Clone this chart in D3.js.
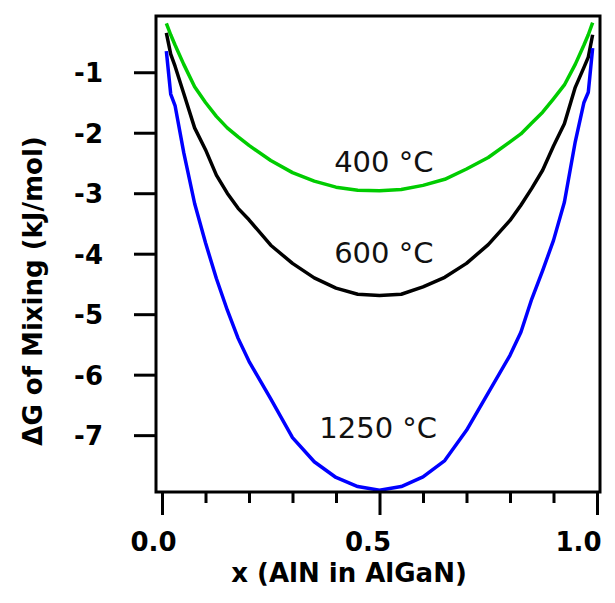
<!DOCTYPE html>
<html>
<head>
<meta charset="utf-8">
<script src="https://d3js.org/d3.v7.min.js"></script>
<style>
  * { margin: 0; padding: 0; }
  body { background: #fff; }
  svg { display: block; font-family: 'DejaVu Sans', Verdana, sans-serif; }
  .axis line { stroke: #000; stroke-width: 3; }
  .lbl { font-size: 29px; fill: #111; }
</style>
</head>
<body>
<div id="chart"></div>
<script>
// composition x (AlN fraction)
var xs = [0.01, 0.02, 0.03, 0.05, 0.075, 0.1, 0.125, 0.15, 0.175, 0.2, 0.25, 0.3, 0.35, 0.4, 0.45, 0.5,
          0.55, 0.6, 0.65, 0.7, 0.75, 0.8, 0.825, 0.85, 0.875, 0.9, 0.925, 0.95, 0.97, 0.98, 0.99];

// dG of mixing, kJ/mol
var g400 = [-0.19, -0.38, -0.55, -0.87, -1.24, -1.50, -1.73, -1.92, -2.07, -2.21, -2.46, -2.66, -2.80, -2.90, -2.95, -2.96,
            -2.94, -2.87, -2.77, -2.60, -2.41, -2.15, -2.02, -1.84, -1.66, -1.44, -1.21, -0.87, -0.55, -0.38, -0.18];
var g600 = [-0.35, -0.70, -0.90, -1.35, -1.92, -2.28, -2.70, -3.00, -3.25, -3.44, -3.86, -4.16, -4.40, -4.57, -4.67, -4.69,
            -4.67, -4.55, -4.39, -4.16, -3.85, -3.45, -3.20, -2.92, -2.62, -2.22, -1.85, -1.25, -0.92, -0.75, -0.38];
var g1250 = [-0.65, -1.36, -1.55, -2.33, -3.17, -3.82, -4.41, -4.93, -5.40, -5.78, -6.40, -7.04, -7.44, -7.70, -7.85, -7.91,
             -7.85, -7.69, -7.42, -6.92, -6.30, -5.68, -5.30, -4.75, -4.28, -3.78, -3.15, -2.15, -1.50, -1.33, -0.60];

var seriesNames = ["400 °C", "600 °C", "1250 °C"];
var seriesColors = ["#00cc00", "#000000", "#0000ff"];
var labelX = [0.51, 0.51, 0.497];
var labelY = [-2.65, -4.16, -7.05];

var yTicks = [-1, -2, -3, -4, -5, -6, -7];
var xTicks = [0, 0.5, 1];
var xMinor = [0.1, 0.2, 0.3, 0.4, 0.6, 0.7, 0.8, 0.9];

var W = 615, H = 603;
var mLeft = 156, mRight = 600, mTop = 16, mBottom = 492;

var x = d3.scaleLinear().domain([-0.0138, 1.0069]).range([mLeft, mRight]);
var y = d3.scaleLinear().domain([-7.94, -0.07]).range([mBottom, mTop]);

var svg = d3.select("#chart").append("svg")
  .attr("width", W).attr("height", H);

svg.append("rect").attr("width", W).attr("height", H).attr("fill", "#fff");

// curves
var line = d3.line().x(function(d) { return x(d[0]); }).y(function(d) { return y(d[1]); });
[g400, g600, g1250].forEach(function(vals, k) {
  svg.append("path")
    .datum(xs.map(function(v, i) { return [v, vals[i]]; }))
    .attr("d", line)
    .attr("fill", "none")
    .attr("stroke", seriesColors[k])
    .attr("stroke-width", 3.5)
    .attr("stroke-linejoin", "round");
});

// labels
seriesNames.forEach(function(name, k) {
  svg.append("text").attr("class", "lbl")
    .attr("x", x(labelX[k])).attr("y", y(labelY[k]))
    .attr("text-anchor", "middle")
    .text(name);
});

function styleAxisText(g) {
  g.attr("font-family", "'DejaVu Sans', Verdana, sans-serif")
   .attr("font-size", 26)
   .attr("font-weight", "bold");
  g.selectAll("text").attr("fill", "#000");
}

// y axis (plain hyphen for the minus sign, like the original)
var yAxis = svg.append("g").attr("class", "axis")
  .attr("transform", "translate(" + mLeft + ",0)")
  .call(d3.axisLeft(y).tickValues(yTicks).tickSize(22).tickPadding(31)
    .tickFormat(function(d) { return String(d); }));
yAxis.select(".domain").remove();
styleAxisText(yAxis);
yAxis.selectAll("text").attr("dy", "0.36em");

// x axis, major
var xAxis = svg.append("g").attr("class", "axis")
  .attr("transform", "translate(0," + mBottom + ")")
  .call(d3.axisBottom(x).tickValues(xTicks).tickSize(23).tickPadding(18).tickFormat(d3.format(".1f")));
xAxis.select(".domain").remove();
styleAxisText(xAxis);
var shift = [-9, -12, -19];
xAxis.selectAll("text").attr("dx", function(d, i) { return shift[i]; });

// x axis, minor
var xAxis2 = svg.append("g").attr("class", "axis")
  .attr("transform", "translate(0," + mBottom + ")")
  .call(d3.axisBottom(x).tickValues(xMinor).tickSize(11).tickFormat(""));
xAxis2.select(".domain").remove();

// frame
svg.append("rect")
  .attr("x", mLeft).attr("y", mTop)
  .attr("width", mRight - mLeft).attr("height", mBottom - mTop)
  .attr("fill", "none").attr("stroke", "#000").attr("stroke-width", 3);

// axis titles
svg.append("text")
  .attr("x", 349).attr("y", 582)
  .attr("text-anchor", "middle")
  .style("font-size", "26px").style("font-weight", "bold")
  .text("x (AlN in AlGaN)");

svg.append("text")
  .attr("transform", "translate(42,291) rotate(-90)")
  .attr("text-anchor", "middle")
  .style("font-size", "26px").style("font-weight", "bold")
  .text("ΔG of Mixing (kJ/mol)");
</script>
</body>
</html>
